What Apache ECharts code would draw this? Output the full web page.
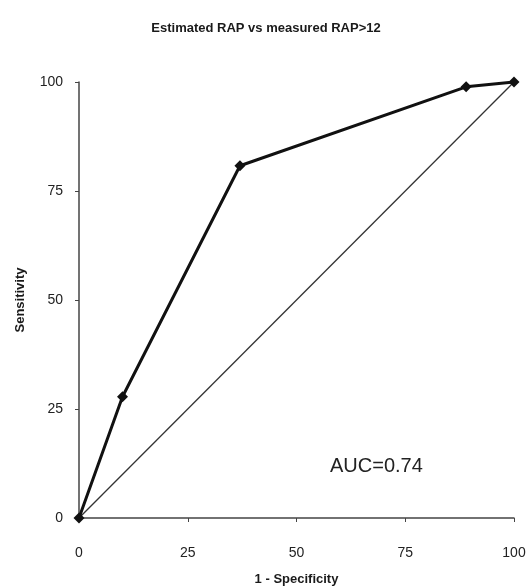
<!DOCTYPE html>
<html><head><meta charset="utf-8">
<script src="https://cdn.jsdelivr.net/npm/echarts@6/dist/echarts.min.js"></script>
<style>html,body{margin:0;padding:0;background:#fff}#c{width:532px;height:587px}</style>
</head><body><div id="c"></div>
<script>
const fprX = [0, 10, 37, 89, 100];
const tprY = [0, 27.8, 80.8, 98.9, 100];
const refX = [0, 100];
const refY = [0, 100];
const xTicks = [0, 25, 50, 75, 100];
const yTicks = [0, 25, 50, 75, 100];
const titleText = 'Estimated RAP vs measured RAP>12';
const aucText = 'AUC=0.74';

const chart = echarts.init(document.getElementById('c'));
const font = 'Liberation Sans';
chart.setOption({
  animation: false,
  backgroundColor: '#fff',
  title: {
    text: titleText, left: 'center', top: 17,
    textStyle: {fontFamily: font, fontSize: 13, fontWeight: 'bold', color: '#1a1a1a'}
  },
  grid: {left: 79, right: 18, top: 82, bottom: 69, outerBoundsMode: 'none', containLabel: false},
  xAxis: {
    type: 'value', min: 0, max: 100, interval: 25,
    name: '1 - Specificity', nameLocation: 'middle', nameGap: 55,
    nameTextStyle: {fontFamily: font, fontSize: 13, fontWeight: 'bold', color: '#1a1a1a'},
    axisLine: {show: true, onZero: false, lineStyle: {color: '#444', width: 1.5}},
    axisTick: {show: true, length: 4, lineStyle: {color: '#444'}},
    axisLabel: {fontFamily: font, fontSize: 14, color: '#222', margin: 28},
    splitLine: {show: false}
  },
  yAxis: {
    type: 'value', min: 0, max: 100, interval: 25,
    name: 'Sensitivity', nameLocation: 'middle', nameGap: 52,
    nameTextStyle: {fontFamily: font, fontSize: 13, fontWeight: 'bold', color: '#1a1a1a'},
    axisLine: {show: true, onZero: false, lineStyle: {color: '#444', width: 1.5}},
    axisTick: {show: true, length: 4, lineStyle: {color: '#444'}},
    axisLabel: {fontFamily: font, fontSize: 14, color: '#222', margin: 16},
    splitLine: {show: false}
  },
  graphic: [{
    type: 'text', left: 330, top: 456,
    style: {text: aucText, font: '20px ' + font, fill: '#222'}
  }],
  series: [
    {
      type: 'line', data: refX.map((x, i) => [x, refY[i]]),
      symbol: 'none', lineStyle: {color: '#333', width: 1.3}, z: 1
    },
    {
      type: 'line', data: fprX.map((x, i) => [x, tprY[i]]),
      symbol: 'diamond', symbolSize: 11, showAllSymbol: true,
      itemStyle: {color: '#111'},
      lineStyle: {color: '#111', width: 3}, z: 2
    }
  ]
});
</script></body></html>
